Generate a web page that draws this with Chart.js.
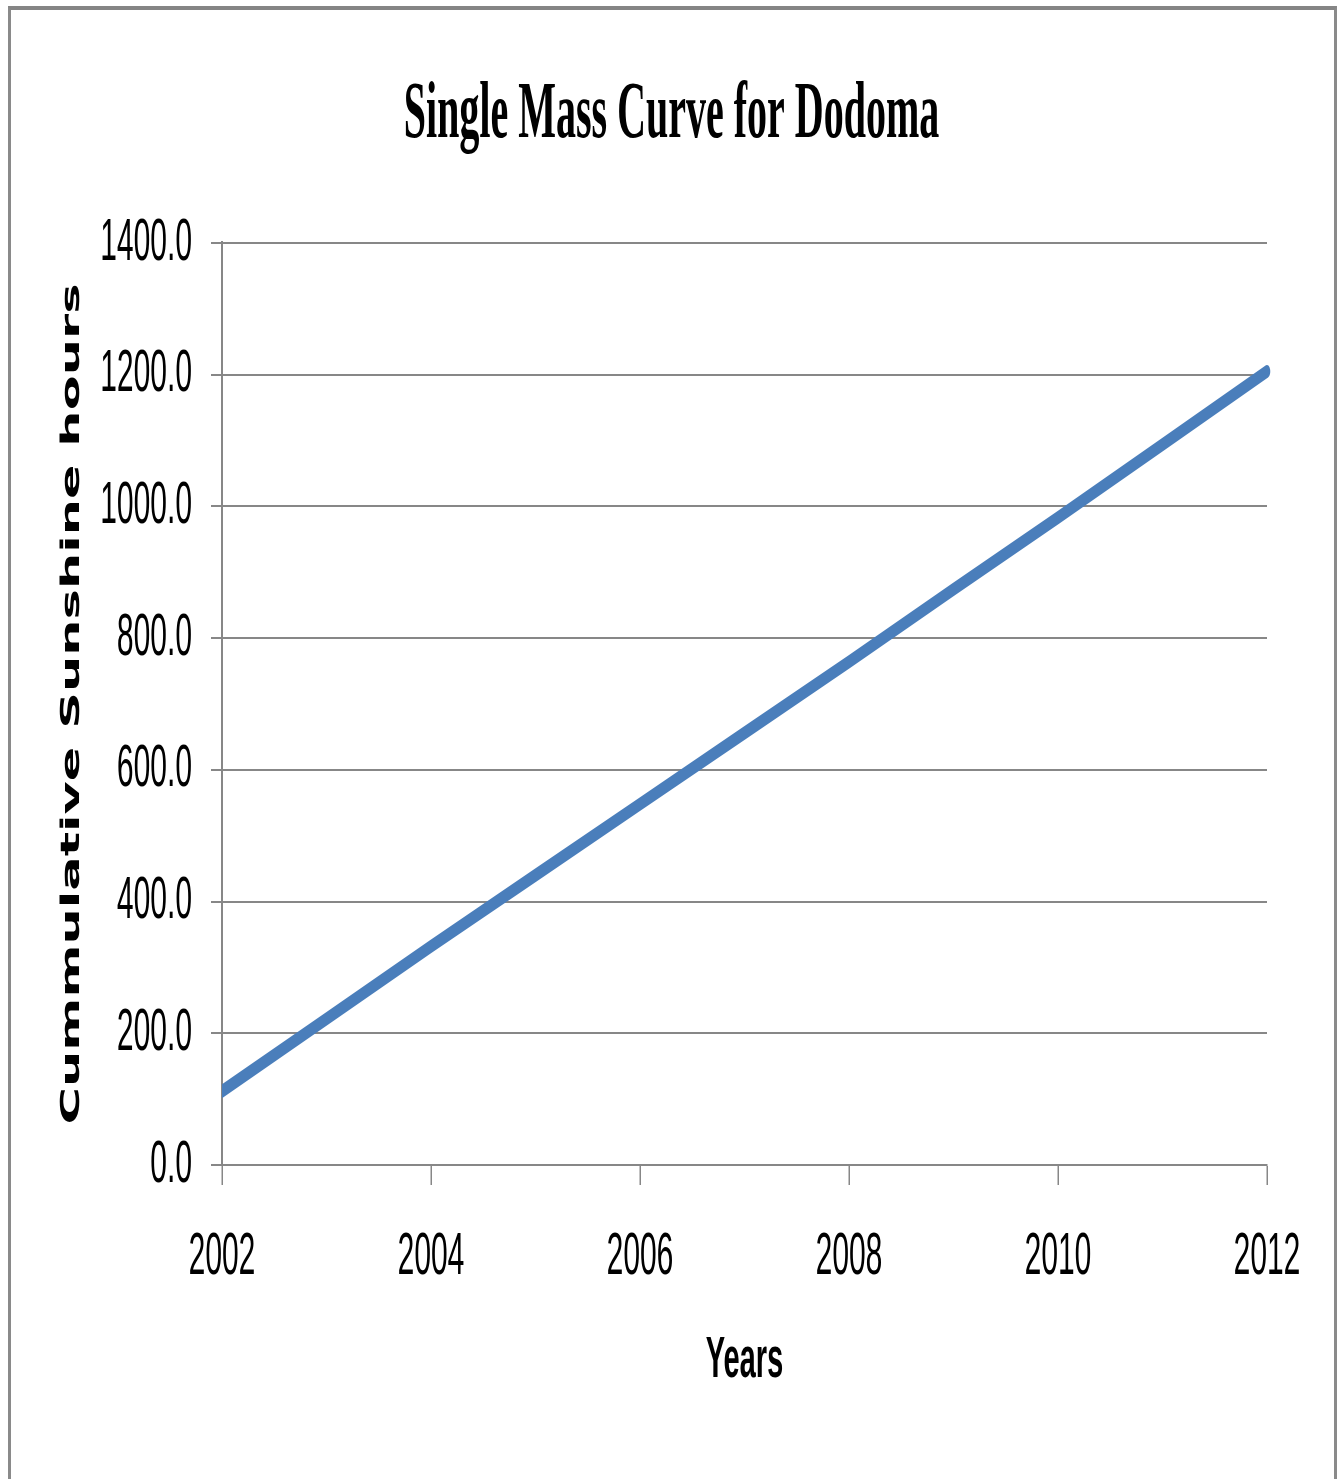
<!DOCTYPE html>
<html>
<head>
<meta charset="utf-8">
<title>Single Mass Curve for Dodoma</title>
<script src="https://cdn.jsdelivr.net/npm/chart.js@4/dist/chart.umd.min.js"></script>
<style>
  html, body { margin: 0; padding: 0; background: #ffffff; }
  #wrap { position: relative; width: 1343px; height: 1479px; overflow: hidden; background: #ffffff; }
  #frame {
    position: absolute; left: 8px; top: 6px; width: 1329px; height: 1600px;
    box-sizing: border-box;
    border-left: 3px solid #8a8a8a; border-top: 4px solid #858585; border-right: 3px solid #8a8a8a;
  }
  #c { position: absolute; left: 0; top: 0; }
</style>
</head>
<body>
<div id="wrap">
  <!-- drawn wide, shown condensed: the chart is laid out at twice the displayed width -->
  <canvas id="c" width="2686" height="1479" style="width:1343px;height:1479px"></canvas>
  <div id="frame"></div>
</div>
<script>
// Cumulative sunshine hours per year, Dodoma
const years = [2002, 2003, 2004, 2005, 2006, 2007, 2008, 2009, 2010, 2011, 2012];
const cumulativeHours = [112, 222, 332, 440, 548, 656, 764, 874, 983, 1094, 1205];

// Axis tick values
const xTickValues = [2002, 2004, 2006, 2008, 2010, 2012];
const yTickValues = [0, 200, 400, 600, 800, 1000, 1200, 1400];

const GRID = '#878787';
const points = years.map((y, i) => ({ x: y, y: cumulativeHours[i] }));

new Chart(document.getElementById('c'), {
  type: 'line',
  data: {
    datasets: [{
      label: 'Cumulative sunshine hours',
      data: points,
      borderColor: '#4a7ebb',
      borderWidth: 13,
      borderCapStyle: 'round',
      borderJoinStyle: 'round',
      tension: 0,
      pointRadius: 0,
      fill: false,
      clip: { left: 0, top: false, right: false, bottom: false }
    }]
  },
  options: {
    responsive: false,
    devicePixelRatio: 1,
    animation: false,
    layout: { padding: { left: 152, right: 152, top: 20, bottom: 83 } },
    plugins: {
      legend: { display: false },
      tooltip: { enabled: false },
      title: {
        display: true,
        text: 'Single Mass Curve for Dodoma',
        color: '#000000',
        font: { family: 'Liberation Serif', weight: 'bold', size: 80, lineHeight: 1.2 },
        padding: { top: 48, bottom: 79 }
      }
    },
    scales: {
      x: {
        type: 'linear',
        min: 2002,
        max: 2012,
        afterBuildTicks: (s) => { s.ticks = xTickValues.map(v => ({ value: v })); },
        afterFit: (s) => { s.height = 231; },
        grid: { drawOnChartArea: false, drawTicks: true, tickLength: 20, tickWidth: 3, tickColor: GRID },
        border: { display: true, color: GRID, width: 2 },
        ticks: {
          color: '#000000',
          font: { family: 'Liberation Sans', size: 60, lineHeight: 1.2 },
          padding: 36,
          maxRotation: 0,
          autoSkip: false,
          callback: (v) => String(v)
        },
        title: {
          display: true,
          text: 'Years',
          color: '#000000',
          font: { family: 'Liberation Sans', weight: 'bold', size: 58, lineHeight: 1.2 },
          padding: { top: 0, bottom: 0 }
        }
      },
      y: {
        min: 0,
        max: 1400,
        afterBuildTicks: (s) => { s.ticks = yTickValues.map(v => ({ value: v })); },
        afterFit: (s) => { s.width = 292; },
        grid: { color: GRID, lineWidth: 2, drawTicks: true, tickLength: 22, tickColor: GRID },
        border: { display: true, color: GRID, width: 4 },
        ticks: {
          color: '#000000',
          font: { family: 'Liberation Sans', size: 60, lineHeight: 1.2 },
          padding: 38,
          callback: (v) => Number(v).toFixed(1)
        },
        title: {
          display: true,
          text: 'Cummulative Sunshine hours',
          color: '#000000',
          font: { family: 'DejaVu Sans', weight: 'bold', size: 51, lineHeight: 1.2 },
          padding: { top: -38, bottom: 0 }
        }
      }
    }
  }
});
</script>
</body>
</html>
